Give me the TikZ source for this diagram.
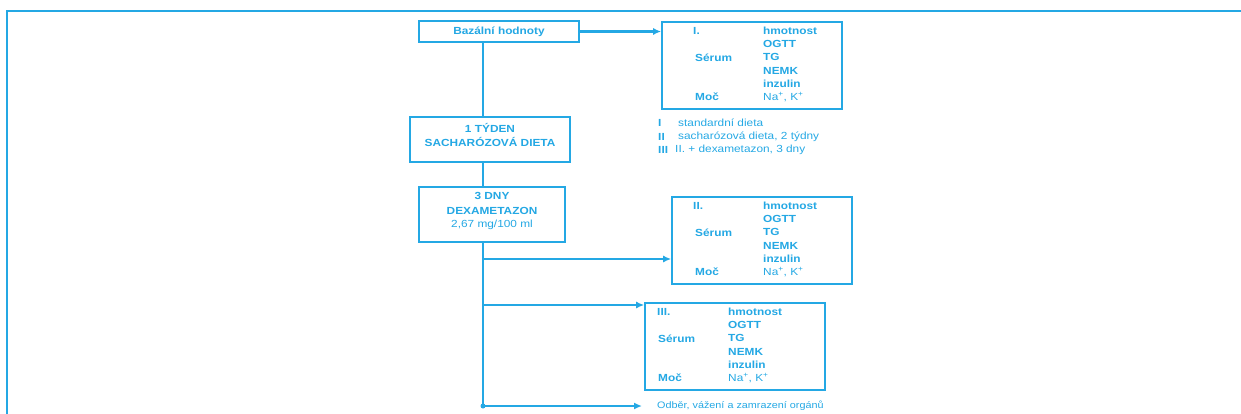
\documentclass[tikz,border=0pt]{standalone}
\usepackage{fontspec}
\usetikzlibrary{arrows.meta}
\newfontfamily\dfont[FakeStretch=1.15]{Liberation Sans}
\definecolor{cb}{RGB}{36,168,228}
\tikzset{
  boxst/.style={draw=cb, line width=1.6pt, fill=white, inner sep=0pt},
  lnk/.style={draw=cb, line width=2.5pt},
  arr/.style={draw=cb, line width=2.5pt, -{Latex[length=8pt,width=7pt]}},
  bt/.style={text=cb, font=\dfont\bfseries\fontsize{10.3}{14}\selectfont, inner sep=0pt},
  nt/.style={text=cb, font=\dfont\fontsize{10.3}{14}\selectfont, inner sep=0pt},
  st/.style={text=cb, font=\dfont\fontsize{9.4}{12}\selectfont, inner sep=0pt},
  lt/.style={anchor=west},
}
\begin{document}
\begin{tikzpicture}[x=1pt,y=-1pt]
\useasboundingbox (0,0) rectangle (1241,414);
% frame
\draw[cb, line width=1.8pt] (7,414) -- (7,11) -- (1241,11);
% left column boxes
\node[boxst, minimum width=160pt, minimum height=21pt] (baz) at (499,31.5) {};
\node[bt] (bazt) at (499,32) {Bazální hodnoty};
\node[boxst, minimum width=160pt, minimum height=45pt] (tyd) at (490,139.5) {};
\node[bt] (tyd1) at (490,128) {1 TÝDEN};
\node[bt] (tyd2) at (490,142) {SACHARÓZOVÁ DIETA};
\node[boxst, minimum width=146pt, minimum height=55pt] (dny) at (492,214.5) {};
\node[bt] (dny1) at (492,196) {3 DNY};
\node[bt] (dny2) at (492,211) {DEXAMETAZON};
\node[nt] (dny3) at (492,225) {2,67 mg/100 ml};
% right boxes
\node[boxst, minimum width=180pt, minimum height=87pt] (b1) at (752,65.5) {};
\node[boxst, minimum width=180pt, minimum height=87pt] (b2) at (762,240.5) {};
\node[boxst, minimum width=180pt, minimum height=87pt] (b3) at (735,346.5) {};
% box I
\node[bt, lt] (b1a) at (693,31) {I.};
\node[bt, lt] (b1b) at (695,57.4) {Sérum};
\node[bt, lt] (b1c) at (695,97) {Moč};
\node[bt, lt] (b1d) at (763,31) {hmotnost};
\node[bt, lt] (b1e) at (763,44.2) {OGTT};
\node[bt, lt] (b1f) at (763,57.4) {TG};
\node[bt, lt] (b1g) at (763,70.6) {NEMK};
\node[bt, lt] (b1h) at (763,83.8) {inzulin};
\node[nt, lt] (b1i) at (763,97) {Na\textsuperscript{+}, K\textsuperscript{+}};
% box II
\node[bt, lt] (b2a) at (693,206) {II.};
\node[bt, lt] (b2b) at (695,232.4) {Sérum};
\node[bt, lt] (b2c) at (695,272) {Moč};
\node[bt, lt] (b2d) at (763,206) {hmotnost};
\node[bt, lt] (b2e) at (763,219.2) {OGTT};
\node[bt, lt] (b2f) at (763,232.4) {TG};
\node[bt, lt] (b2g) at (763,245.6) {NEMK};
\node[bt, lt] (b2h) at (763,258.8) {inzulin};
\node[nt, lt] (b2i) at (763,272) {Na\textsuperscript{+}, K\textsuperscript{+}};
% box III
\node[bt, lt] (b3a) at (657,312) {III.};
\node[bt, lt] (b3b) at (658,338.4) {Sérum};
\node[bt, lt] (b3c) at (658,378) {Moč};
\node[bt, lt] (b3d) at (728,312) {hmotnost};
\node[bt, lt] (b3e) at (728,325.2) {OGTT};
\node[bt, lt] (b3f) at (728,338.4) {TG};
\node[bt, lt] (b3g) at (728,351.6) {NEMK};
\node[bt, lt] (b3h) at (728,364.8) {inzulin};
\node[nt, lt] (b3i) at (728,378) {Na\textsuperscript{+}, K\textsuperscript{+}};
% legend
\node[bt, lt] (l1a) at (658,123) {I};
\node[nt, lt] (l1b) at (678,123) {standardní dieta};
\node[bt, lt] (l2a) at (658,137) {II};
\node[nt, lt] (l2b) at (678,137) {sacharózová dieta, 2 týdny};
\node[bt, lt] (l3a) at (658,150) {III};
\node[nt, lt] (l3b) at (675,150) {II. + dexametazon, 3 dny};
\node[st, lt] (odb) at (657,406) {Odběr, vážení a zamrazení orgánů};
% connectors
\coordinate (tx) at (483,0);
\coordinate (j2) at (483,259);
\coordinate (j3) at (483,305);
\coordinate (bend) at (483,406);
\draw[lnk] (baz.south -| tx) -- (tyd.north -| tx);
\draw[lnk] (tyd.south -| tx) -- (dny.north -| tx);
\draw[lnk] (dny.south -| tx) -- (bend);
\fill[cb] (bend) circle (2.5pt);
\draw[arr] (baz.east) -- (baz.east -| b1.west);
\draw[arr] (j2) -- (j2 -| b2.west);
\draw[arr] (j3) -- (j3 -| b3.west);
\draw[arr] (bend) -- ([xshift=-15pt]odb.west);
\end{tikzpicture}
\end{document}
